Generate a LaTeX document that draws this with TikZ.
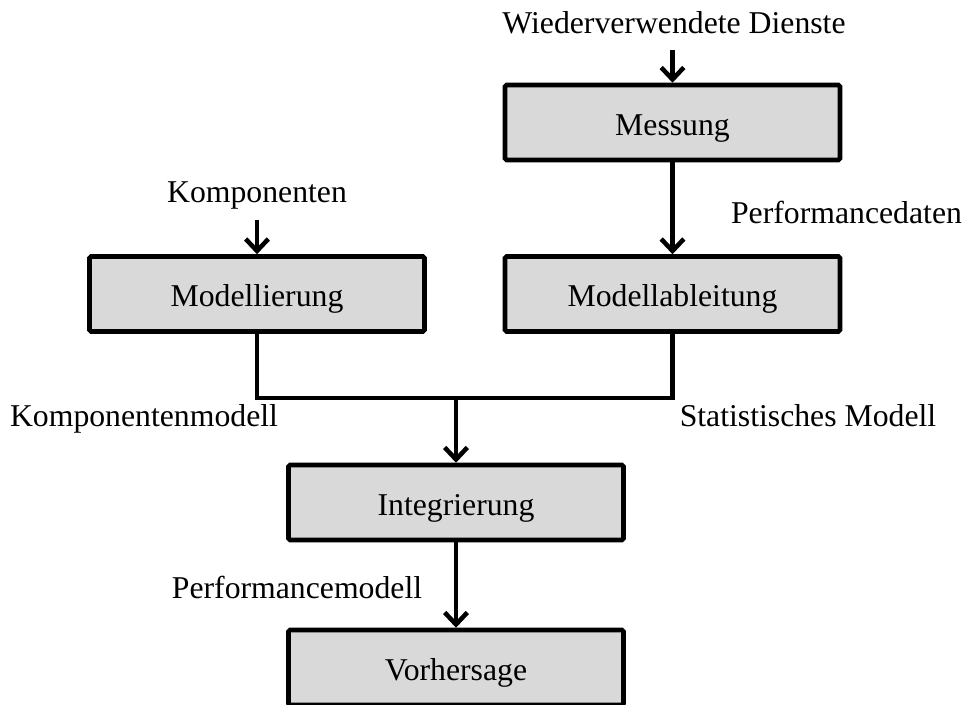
\documentclass[tikz,border=0pt]{standalone}
\usepackage{fontspec}
\setmainfont{Liberation Serif}
\usetikzlibrary{arrows.meta}
\begin{document}
\begin{tikzpicture}[x=0.75pt,y=-0.75pt,
  lbl/.style={font=\fontsize{23.8pt}{28pt}\selectfont, inner sep=0pt, anchor=base},
  stepbox/.style={draw=black, fill=boxgray, line width=3.4pt, rounded corners=1.2pt,
    minimum width=251.25pt, minimum height=56.25pt, inner sep=0pt,
    text height=18.75pt, text depth=0pt,
    font=\fontsize{23.8pt}{28pt}\selectfont},
  flow/.style={line width=3.4pt},
  flowarrow/.style={flow, -{Straight Barb[length=9pt,width=17pt]}}]
\definecolor{boxgray}{HTML}{D9D9D9}
\useasboundingbox (0,0) rectangle (966,704);
\clip (0,0) rectangle (966,704);

% process steps
\node[stepbox] (mess) at (672.5,122.5) {Messung};
\node[stepbox] (mab)  at (672.5,294)   {Modellableitung};
\node[stepbox] (modl) at (257,294)     {Modellierung};
\node[stepbox] (integ) at (456,502.5)  {Integrierung};
\node[stepbox] (vorh) at (456,667.5)   {Vorhersage};

% inputs and labels
\node[lbl] (tdienste) at (674,33)  {Wiederverwendete Dienste};
\node[lbl] (tkomp)    at (257,202) {Komponenten};
\node[lbl] (tpdaten)  at (846.5,223) {Performancedaten};
\node[lbl] (tkmodell) at (144,426) {Komponentenmodell};
\node[lbl] (tstat)    at (808,426) {Statistisches Modell};
\node[lbl] (tpmodell) at (297,598) {Performancemodell};

\coordinate (din) at (672.5,50);
\coordinate (kin) at (257,220);
\coordinate (join) at (456,398);

% connectors
\draw[flowarrow] (din) -- (mess.north);
\draw[flowarrow] (kin) -- (modl.north);
\draw[flowarrow] (mess.south) -- (mab.north);
\draw[flow] (modl.south) |- (join) -| (mab.south);
\draw[flowarrow] (join) -- (integ.north);
\draw[flowarrow] (integ.south) -- (vorh.north);
\end{tikzpicture}
\end{document}
